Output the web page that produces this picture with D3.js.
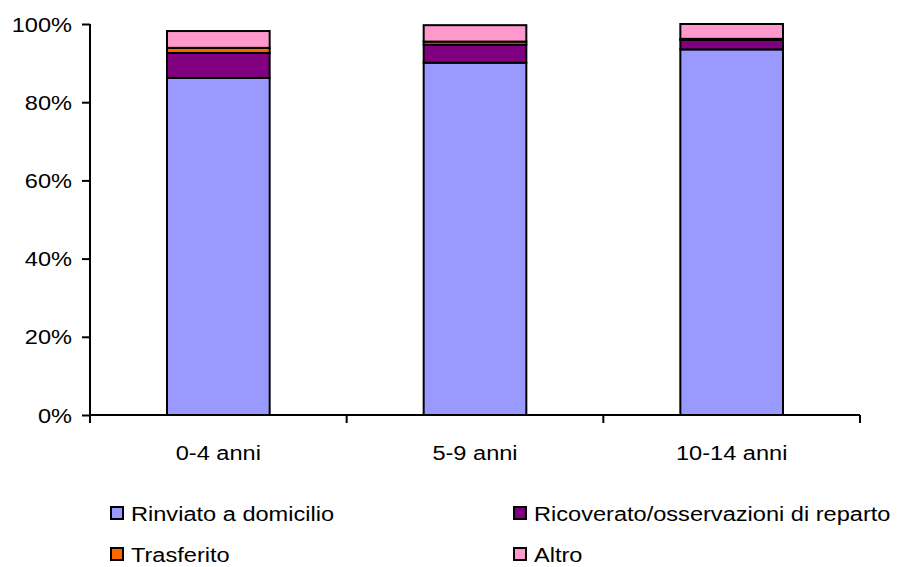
<!DOCTYPE html>
<html>
<head>
<meta charset="utf-8">
<script src="https://cdn.jsdelivr.net/npm/d3@7"></script>
<style>
  html, body { margin: 0; padding: 0; background: #fff; }
  svg { display: block; }
  text { font-family: "Liberation Sans", Arial, Helvetica, sans-serif; fill: #000; }
</style>
</head>
<body>
<svg id="chart" width="902" height="567"></svg>
<script>
// Age groups (x categories)
const categories = ["0-4 anni", "5-9 anni", "10-14 anni"];

// Outcome series, percentages per age group
const seriesNames = ["Rinviato a domicilio", "Ricoverato/osservazioni di reparto", "Trasferito", "Altro"];
const rinviato   = [86.2, 90.1, 93.5];
const ricoverato = [6.4, 4.6, 2.4];
const trasferito = [1.3, 0.8, 0.3];
const altro      = [4.3, 4.2, 3.8];
const seriesColors = ["#9999FF", "#800080", "#FF6600", "#FF99CC"];

// Y-axis tick labels
const yTicks = [0, 20, 40, 60, 80, 100];

const svg = d3.select("#chart");
const plot = { left: 90, right: 860, top: 24, bottom: 415 };
const sx = 1.21; // horizontal text stretch

const rows = categories.map((c, i) => ({
  cat: c,
  "Rinviato a domicilio": rinviato[i],
  "Ricoverato/osservazioni di reparto": ricoverato[i],
  "Trasferito": trasferito[i],
  "Altro": altro[i]
}));
const stacked = d3.stack().keys(seriesNames)(rows);

const x = d3.scaleBand().domain(categories).range([plot.left, plot.right]).paddingInner(0.6).paddingOuter(0.3);
const y = d3.scaleLinear().domain([0, 100]).range([plot.bottom, plot.top]);
const color = d3.scaleOrdinal().domain(seriesNames).range(seriesColors);

// Bars
svg.append("g").selectAll("g").data(stacked).join("g")
  .attr("fill", d => color(d.key))
  .selectAll("rect").data(d => d).join("rect")
  .attr("x", d => x(d.data.cat))
  .attr("width", x.bandwidth())
  .attr("y", d => y(d[1]))
  .attr("height", d => y(d[0]) - y(d[1]))
  .attr("stroke", "#000")
  .attr("stroke-width", 2);

// Y axis
const yAxis = svg.append("g").attr("transform", `translate(${plot.left},0)`)
  .call(d3.axisLeft(y).tickValues(yTicks).tickFormat(d => d + "%").tickSize(8).tickPadding(10));
yAxis.select(".domain").attr("stroke", "#000").attr("stroke-width", 2).attr("d", `M0,${plot.top}V${plot.bottom}`);
yAxis.selectAll(".tick line").attr("stroke", "#000").attr("stroke-width", 2);
yAxis.selectAll(".tick text")
  .attr("font-size", 19.5)
  .attr("font-family", "Liberation Sans, Arial, sans-serif")
  .attr("fill", "#000")
  .attr("dy", "0.36em")
  .each(function() {
    const t = d3.select(this);
    t.attr("transform", `translate(-18,0) scale(${sx},1)`).attr("x", 0);
  });

// X axis with boundary ticks between categories
const xg = svg.append("g");
xg.append("line").attr("x1", plot.left).attr("x2", plot.right)
  .attr("y1", plot.bottom).attr("y2", plot.bottom)
  .attr("stroke", "#000").attr("stroke-width", 2);
const step = (plot.right - plot.left) / categories.length;
xg.selectAll("line.tk").data(d3.range(categories.length + 1)).join("line")
  .attr("class", "tk")
  .attr("x1", i => plot.left + i * step).attr("x2", i => plot.left + i * step)
  .attr("y1", plot.bottom).attr("y2", plot.bottom + 8)
  .attr("stroke", "#000").attr("stroke-width", 2);
xg.selectAll("text").data(categories).join("text")
  .attr("transform", d => `translate(${x(d) + x.bandwidth() / 2},460) scale(${sx},1)`)
  .attr("text-anchor", "middle")
  .attr("font-size", 19.5)
  .text(d => d);

// Legend (two columns, two rows)
const legendPos = [[110, 521], [513, 521], [110, 562], [513, 562]];
const lg = svg.append("g").selectAll("g").data(seriesNames).join("g")
  .attr("transform", (d, i) => `translate(${legendPos[i][0]},${legendPos[i][1]})`);
lg.append("rect")
  .attr("x", 1).attr("y", -14).attr("width", 12).attr("height", 12)
  .attr("fill", d => color(d)).attr("stroke", "#000").attr("stroke-width", 2);
lg.append("text")
  .attr("transform", `translate(21,0) scale(${sx},1)`)
  .attr("font-size", 19.5)
  .text(d => d);
</script>
</body>
</html>
